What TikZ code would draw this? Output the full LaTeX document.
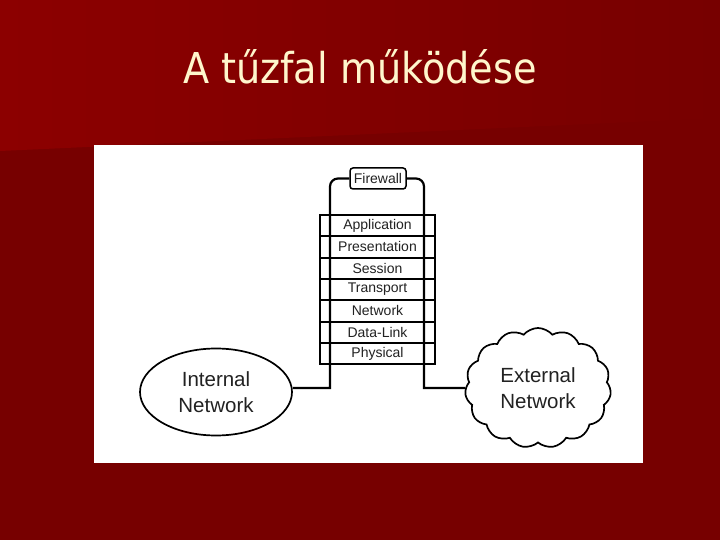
\documentclass[tikz,border=0pt]{standalone}
\usepackage{fontspec}
\setmainfont{Liberation Sans}
\newfontfamily\titlefont{DejaVu Sans Condensed}
\usetikzlibrary{positioning, shapes.geometric, shapes.symbols}
\definecolor{slidered}{HTML}{770000}
\definecolor{lightred}{HTML}{8C0000}
\definecolor{titlecream}{HTML}{FFF6CC}
\definecolor{labelgray}{HTML}{222222}

\tikzset{
  layerbox/.style={draw, line width=2pt, minimum width=115pt, minimum height=21.3pt,
    inner sep=0pt, outer sep=0pt, text=labelgray, font=\fontsize{14}{15}\selectfont},
  netlabel/.style={draw, line width=1.7pt, align=center, text=labelgray,
    font=\fontsize{20.5}{26}\selectfont},
  wire/.style={line width=2.2pt},
}

\begin{document}
\begin{tikzpicture}[x=1pt, y=-1pt]
    \useasboundingbox (0,0) rectangle (720,540);

    % slide background and title
    \fill[slidered] (0,0) rectangle (720,540);
    \shade[left color=lightred, right color=slidered]
        (0,0) -- (720,0) -- (720,118) -- (0,151) -- cycle;
    \node[anchor=base, text=titlecream, font=\titlefont\fontsize{42.5}{46}\selectfont]
        (title) at (360,84) {A tűzfal működése};
    \fill[white] (94,145) rectangle (643,463);

    % OSI layers
    \node[layerbox] (app) at (377.5,225.65) {Application};
    \node[layerbox, below=0pt of app] (pres) {Presentation};
    \node[layerbox, below=0pt of pres] (sess) {Session};
    \node[layerbox, below=0pt of sess] (trans) {Transport};
    \node[layerbox, below=0pt of trans] (net) {Network};
    \node[layerbox, below=0pt of net] (dl) {Data-Link};
    \node[layerbox, below=0pt of dl] (phys) {Physical};

    % firewall label
    \node[draw, rounded corners=3pt, line width=1.5pt, minimum width=56pt, minimum height=21pt,
        inner sep=0pt, text=labelgray, font=\fontsize{14}{15}\selectfont] (fw) at (378,178.5) {Firewall};

    % networks
    \node[netlabel, ellipse, minimum width=152pt, minimum height=87pt] (int) at (216,392) {Internal\\Network};
    \node[netlabel, cloud, cloud puffs=15, cloud puff arc=100, minimum width=146pt, minimum height=120pt,
        aspect=1.2] (ext) at (538,388) {External\\Network};

    % wires through the firewall
    \coordinate (topL) at (330,178.5);
    \coordinate (lowL) at (330,388);
    \coordinate (topR) at (424,178.5);
    \coordinate (lowR) at (424,388);
    \draw[wire] (fw.west) [rounded corners=8pt] -- (topL) [sharp corners] -- (lowL) -- (lowL -| int.east);
    \draw[wire] (fw.east) [rounded corners=8pt] -- (topR) [sharp corners] -- (lowR) -- (lowR -| ext.west);

\end{tikzpicture}
\end{document}
